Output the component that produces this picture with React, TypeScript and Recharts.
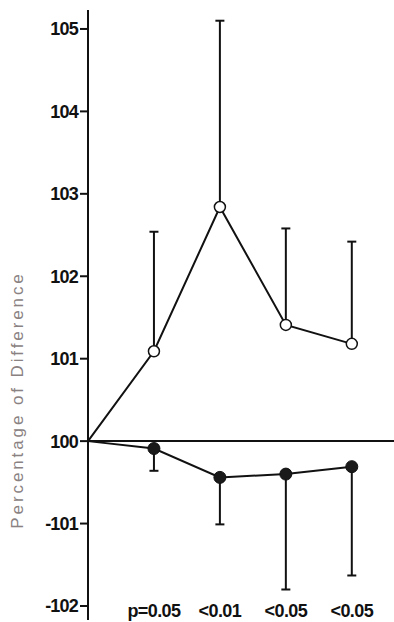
import React from 'react';
import {
  LineChart,
  Line,
  XAxis,
  YAxis,
  ErrorBar,
  ReferenceLine,
} from 'recharts';

// x positions: 0 is the common origin, 1..4 are the four measurements
const xPos = [0, 1, 2, 3, 4];
const pLabels = ['', 'p=0.05', '<0.01', '<0.05', '<0.05'];

// values as difference from 100 %
const openValues = [0, 1.09, 2.84, 1.41, 1.18];
const openUpper = [null, 1.45, 2.26, 1.17, 1.24];

const filledValues = [0, -0.09, -0.44, -0.4, -0.31];
const filledLower = [null, 0.27, 0.57, 1.4, 1.32];

const yTicks = [-2, -1, 0, 1, 2, 3, 4, 5];

const data = xPos.map((x, i) => {
  const up = openUpper[i];
  const down = filledLower[i];
  return {
    x,
    open: openValues[i],
    openErr: up == null ? undefined : [0, up],
    openEnd: up == null ? null : openValues[i] + up,
    filled: filledValues[i],
    filledErr: down == null ? undefined : [down, 0],
    filledEnd: down == null ? null : filledValues[i] - down,
  };
});

const fmtY = (v: number) => (v < 0 ? `-${100 - v}` : `${100 + v}`);

const tickFont = {
  fontFamily: '"Liberation Sans", Arial, sans-serif',
  fontWeight: 700,
  fontSize: 18,
  fill: '#111',
};

const XTick = (props: any) => {
  const { x, y, payload } = props;
  return (
    <text x={x} y={y - 11} textAnchor="middle" style={tickFont} letterSpacing={-0.6}>
      {pLabels[payload.value]}
    </text>
  );
};

const OpenDot = (props: any) => {
  const { cx, cy, index } = props;
  if (index === 0) return <g key={`o${index}`} />;
  return <circle key={`o${index}`} cx={cx} cy={cy} r={5.5} fill="#fff" stroke="#111" strokeWidth={1.5} />;
};

const FilledDot = (props: any) => {
  const { cx, cy, index } = props;
  if (index === 0) return <g key={`f${index}`} />;
  return <circle key={`f${index}`} cx={cx} cy={cy} r={6} fill="#1a1a1a" stroke="#111" strokeWidth={1} />;
};

// cap only at the far end of each one-sided error bar
const Cap = (props: any) => {
  const { cx, cy, index, value } = props;
  if (value == null || cy == null) return <g key={`c${index}`} />;
  return <line key={`c${index}`} x1={cx - 4.5} x2={cx + 4.5} y1={cy} y2={cy} stroke="#111" strokeWidth={2} />;
};

export default function App() {
  return (
    <div style={{ position: 'absolute', left: 0, top: 0, background: '#fff' }}>
      <LineChart
        width={394}
        height={622}
        data={data}
        margin={{ top: 10, right: 0, bottom: 1, left: 0 }}
      >
        <XAxis
          dataKey="x"
          type="number"
          domain={[0, 4.64]}
          ticks={[1, 2, 3, 4]}
          axisLine={false}
          tickLine={false}
          height={1}
          tick={<XTick />}
          interval={0}
        />
        <YAxis
          type="number"
          domain={[-2.17, 5.23]}
          ticks={yTicks}
          tickFormatter={fmtY}
          width={88}
          tickSize={8}
          tickMargin={2}
          axisLine={{ stroke: '#111', strokeWidth: 2 }}
          tickLine={{ stroke: '#111', strokeWidth: 2 }}
          tick={{ ...tickFont, letterSpacing: -0.8 }}
          allowDataOverflow
          label={{
            content: (p: any) => {
              const vb = p.viewBox || { x: 0, y: 10 };
              const cx = vb.x + 17;
              const cy = 400;
              return (
                <text
                  x={cx}
                  y={cy}
                  transform={`rotate(-90 ${cx} ${cy})`}
                  textAnchor="middle"
                  dominantBaseline="central"
                  fill="#8a8282"
                  fontSize={17}
                  letterSpacing={2.9}
                  fontFamily='"Liberation Sans", Arial, sans-serif'
                >
                  Percentage of Difference
                </text>
              );
            },
          }}
        />
        <ReferenceLine y={0} stroke="#111" strokeWidth={2} />
        {/* whiskers (no caps) and far-end caps */}
        <Line dataKey="open" stroke="none" dot={false} activeDot={false} isAnimationActive={false}>
          <ErrorBar dataKey="openErr" width={0} stroke="#111" strokeWidth={2} direction="y" zIndex={350} />
        </Line>
        <Line dataKey="filled" stroke="none" dot={false} activeDot={false} isAnimationActive={false}>
          <ErrorBar dataKey="filledErr" width={0} stroke="#111" strokeWidth={2} direction="y" zIndex={350} />
        </Line>
        <Line dataKey="openEnd" stroke="none" dot={<Cap />} activeDot={false} isAnimationActive={false} />
        <Line dataKey="filledEnd" stroke="none" dot={<Cap />} activeDot={false} isAnimationActive={false} />
        <Line
          dataKey="open"
          stroke="#111"
          strokeWidth={2}
          type="linear"
          dot={<OpenDot />}
          activeDot={false}
          isAnimationActive={false}
        />
        <Line
          dataKey="filled"
          stroke="#111"
          strokeWidth={2}
          type="linear"
          dot={<FilledDot />}
          activeDot={false}
          isAnimationActive={false}
        />
      </LineChart>
    </div>
  );
}
